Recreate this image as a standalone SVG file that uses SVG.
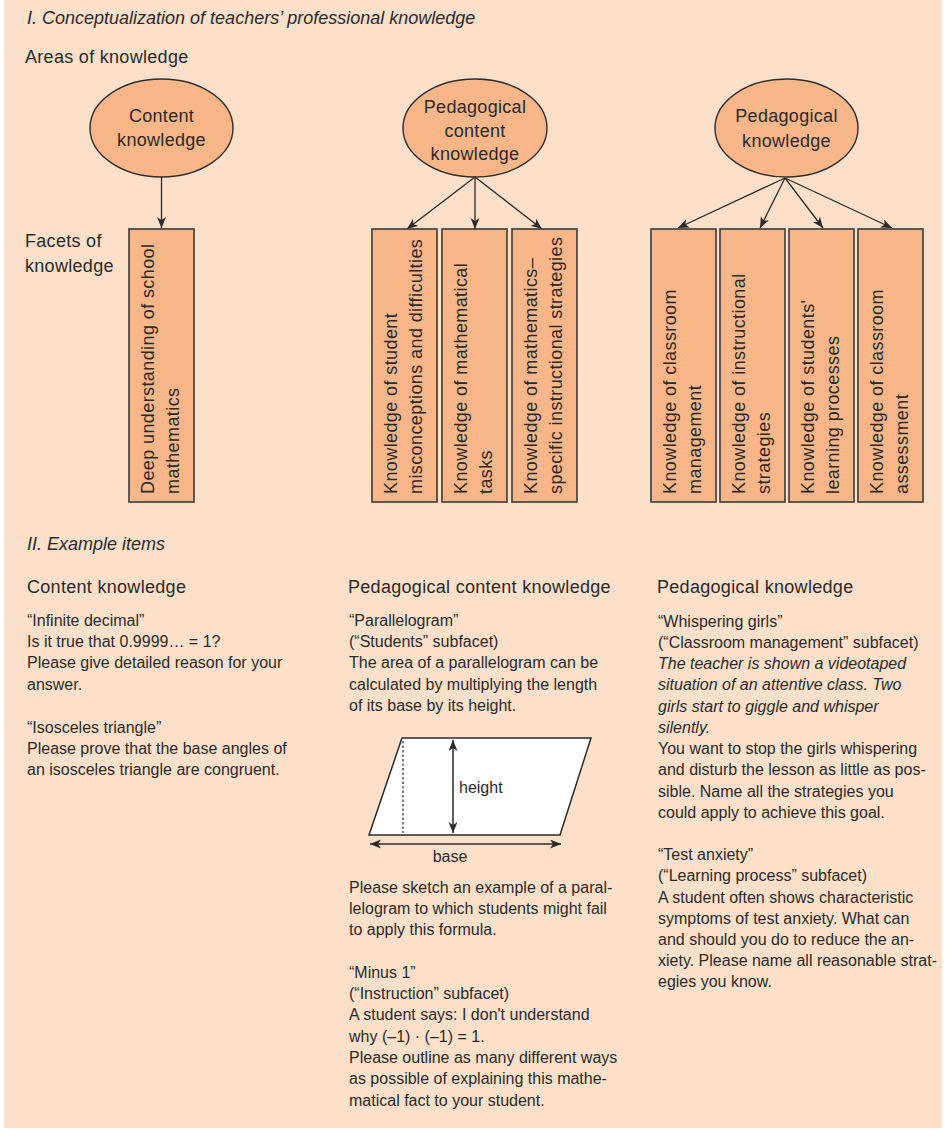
<svg xmlns="http://www.w3.org/2000/svg" width="945" height="1140" viewBox="0 0 945 1140">
  <style>
    text { font-family: "Liberation Sans", Arial, sans-serif; fill: #2a2a2a; }
    .title { font-size: 18px; font-style: italic; }
    .head { font-size: 18px; letter-spacing: 0.3px; }
    .node { font-size: 18px; letter-spacing: 0.3px; text-anchor: middle; }
    .facet { font-size: 18px; letter-spacing: 0.4px; }
    .body { font-size: 16px; }
    .it { font-style: italic; }
    .area { fill: #F9B789; stroke: #2e2e2e; stroke-width: 1.4; }
    .box { fill: #F9B789; stroke: #3a3a3a; stroke-width: 1.6; }
    .conn { stroke: #2a2a2a; stroke-width: 1.3; fill: none; marker-end: url(#arrow); }
    .fig { stroke: #2a2a2a; stroke-width: 1.5; }
  </style>
  <defs>
    <marker id="arrow" markerUnits="userSpaceOnUse" markerWidth="12" markerHeight="10" refX="11" refY="4.5" orient="auto">
      <path d="M0,0 L11,4.5 L0,9 L3,4.5 Z" fill="#2a2a2a"/>
    </marker>
    <marker id="tip" markerUnits="userSpaceOnUse" markerWidth="12" markerHeight="10" refX="11" refY="4.5" orient="auto-start-reverse">
      <path d="M0,0 L11,4.5 L0,9 L3,4.5 Z" fill="#2a2a2a"/>
    </marker>
  </defs>

  <!-- page background -->
  <rect x="4" y="0" width="938" height="1128" fill="#FDE0C9"/>

  <!-- section I headings -->
  <text class="title" x="27" y="24">I. Conceptualization of teachers’ professional knowledge</text>
  <text class="head" x="25" y="63">Areas of knowledge</text>
  <text class="head" x="25" y="247">Facets of</text>
  <text class="head" x="25" y="272">knowledge</text>

  <!-- connectors -->
  <g id="connectors">
    <line class="conn" x1="161.5" y1="177" x2="161.5" y2="228"/>
    <line class="conn" x1="475" y1="177" x2="407" y2="229"/>
    <line class="conn" x1="475" y1="177" x2="475" y2="229"/>
    <line class="conn" x1="475" y1="177" x2="542" y2="229"/>
    <line class="conn" x1="785" y1="178" x2="678" y2="228"/>
    <line class="conn" x1="785" y1="178" x2="760" y2="228"/>
    <line class="conn" x1="785" y1="178" x2="823" y2="228"/>
    <line class="conn" x1="785" y1="178" x2="892" y2="228"/>
  </g>

  <!-- areas of knowledge -->
  <g id="area-content">
    <ellipse class="area" cx="161.5" cy="128" rx="71.5" ry="49"/>
    <text class="node" x="161.5" y="122">Content</text>
    <text class="node" x="161.5" y="146">knowledge</text>
  </g>
  <g id="area-pck">
    <ellipse class="area" cx="475" cy="128" rx="72" ry="49"/>
    <text class="node" x="475" y="113">Pedagogical</text>
    <text class="node" x="475" y="137">content</text>
    <text class="node" x="475" y="160">knowledge</text>
  </g>
  <g id="area-pk">
    <ellipse class="area" cx="786.5" cy="128" rx="71.5" ry="49"/>
    <text class="node" x="786.5" y="122">Pedagogical</text>
    <text class="node" x="786.5" y="147">knowledge</text>
  </g>

  <!-- facets of knowledge (vertical boxes, text reads bottom to top) -->
  <g id="facet-school-math">
    <rect class="box" x="129" y="229" width="65" height="273"/>
    <text class="facet" transform="translate(154 494) rotate(-90)">Deep understanding of school</text>
    <text class="facet" transform="translate(179 494) rotate(-90)">mathematics</text>
  </g>
  <g id="facet-misconceptions">
    <rect class="box" x="372" y="229" width="65" height="273"/>
    <text class="facet" transform="translate(397 494) rotate(-90)">Knowledge of student</text>
    <text class="facet" transform="translate(422 494) rotate(-90)">misconceptions and difficulties</text>
  </g>
  <g id="facet-tasks">
    <rect class="box" x="442" y="229" width="65" height="273"/>
    <text class="facet" transform="translate(467 494) rotate(-90)">Knowledge of mathematical</text>
    <text class="facet" transform="translate(492 494) rotate(-90)">tasks</text>
  </g>
  <g id="facet-math-strategies">
    <rect class="box" x="512" y="229" width="65" height="273"/>
    <text class="facet" transform="translate(537 494) rotate(-90)">Knowledge of mathematics–</text>
    <text class="facet" transform="translate(562 494) rotate(-90)">specific instructional strategies</text>
  </g>
  <g id="facet-classroom-mgmt">
    <rect class="box" x="651" y="229" width="65" height="273"/>
    <text class="facet" transform="translate(676 494) rotate(-90)">Knowledge of classroom</text>
    <text class="facet" transform="translate(701 494) rotate(-90)">management</text>
  </g>
  <g id="facet-instr-strategies">
    <rect class="box" x="720" y="229" width="65" height="273"/>
    <text class="facet" transform="translate(745 494) rotate(-90)">Knowledge of instructional</text>
    <text class="facet" transform="translate(770 494) rotate(-90)">strategies</text>
  </g>
  <g id="facet-learning">
    <rect class="box" x="789" y="229" width="65" height="273"/>
    <text class="facet" transform="translate(814 494) rotate(-90)">Knowledge of students'</text>
    <text class="facet" transform="translate(839 494) rotate(-90)">learning processes</text>
  </g>
  <g id="facet-assessment">
    <rect class="box" x="858" y="229" width="65" height="273"/>
    <text class="facet" transform="translate(883 494) rotate(-90)">Knowledge of classroom</text>
    <text class="facet" transform="translate(908 494) rotate(-90)">assessment</text>
  </g>

  <!-- section II -->
  <text class="title" x="27" y="550">II. Example items</text>
  <text class="head" x="27" y="593">Content knowledge</text>
  <text class="head" x="348" y="593">Pedagogical content knowledge</text>
  <text class="head" x="657" y="593">Pedagogical knowledge</text>

  <!-- column 1 -->
  <text class="body">
    <tspan x="27" y="626">“Infinite decimal”</tspan>
    <tspan x="27" y="647">Is it true that 0.9999… = 1?</tspan>
    <tspan x="27" y="668">Please give detailed reason for your</tspan>
    <tspan x="27" y="690">answer.</tspan>
    <tspan x="27" y="733">“Isosceles triangle”</tspan>
    <tspan x="27" y="754">Please prove that the base angles of</tspan>
    <tspan x="27" y="775">an isosceles triangle are congruent.</tspan>
  </text>

  <!-- column 2 -->
  <text class="body">
    <tspan x="349" y="626">“Parallelogram”</tspan>
    <tspan x="349" y="647">(“Students” subfacet)</tspan>
    <tspan x="349" y="668">The area of a parallelogram can be</tspan>
    <tspan x="349" y="690">calculated by multiplying the length</tspan>
    <tspan x="349" y="711">of its base by its height.</tspan>
  </text>

  <!-- parallelogram sketch -->
  <g id="parallelogram">
    <polygon points="402,738 591,738 560,835 369,835" fill="#FFFFFF" stroke="#2a2a2a" stroke-width="1.5"/>
    <line x1="403" y1="741" x2="403" y2="833" stroke="#2a2a2a" stroke-width="1.2" stroke-dasharray="2.5,2"/>
    <line class="fig" x1="453" y1="740" x2="453" y2="833" marker-start="url(#tip)" marker-end="url(#tip)"/>
    <line class="fig" x1="370" y1="844" x2="561" y2="844" marker-start="url(#tip)" marker-end="url(#tip)"/>
    <text class="body" x="459" y="793">height</text>
    <text class="body" x="450" y="862" text-anchor="middle">base</text>
  </g>

  <text class="body">
    <tspan x="349" y="893">Please sketch an example of a paral-</tspan>
    <tspan x="349" y="914">lelogram to which students might fail</tspan>
    <tspan x="349" y="935">to apply this formula.</tspan>
    <tspan x="349" y="978">“Minus 1”</tspan>
    <tspan x="349" y="999">(“Instruction” subfacet)</tspan>
    <tspan x="349" y="1020">A student says: I don't understand</tspan>
    <tspan x="349" y="1042">why (–1) · (–1) = 1.</tspan>
    <tspan x="349" y="1063">Please outline as many different ways</tspan>
    <tspan x="349" y="1084">as possible of explaining this mathe-</tspan>
    <tspan x="349" y="1106">matical fact to your student.</tspan>
  </text>

  <!-- column 3 -->
  <text class="body">
    <tspan x="658" y="627">“Whispering girls”</tspan>
    <tspan x="658" y="648">(“Classroom management” subfacet)</tspan>
    <tspan class="it" x="658" y="669">The teacher is shown a videotaped</tspan>
    <tspan class="it" x="658" y="690">situation of an attentive class. Two</tspan>
    <tspan class="it" x="658" y="712">girls start to giggle and whisper</tspan>
    <tspan class="it" x="658" y="733">silently.</tspan>
    <tspan x="658" y="754">You want to stop the girls whispering</tspan>
    <tspan x="658" y="775">and disturb the lesson as little as pos-</tspan>
    <tspan x="658" y="797">sible. Name all the strategies you</tspan>
    <tspan x="658" y="818">could apply to achieve this goal.</tspan>
    <tspan x="658" y="860">“Test anxiety”</tspan>
    <tspan x="658" y="881">(“Learning process” subfacet)</tspan>
    <tspan x="658" y="903">A student often shows characteristic</tspan>
    <tspan x="658" y="924">symptoms of test anxiety. What can</tspan>
    <tspan x="658" y="945">and should you do to reduce the an-</tspan>
    <tspan x="658" y="966">xiety. Please name all reasonable strat-</tspan>
    <tspan x="658" y="987">egies you know.</tspan>
  </text>
</svg>
